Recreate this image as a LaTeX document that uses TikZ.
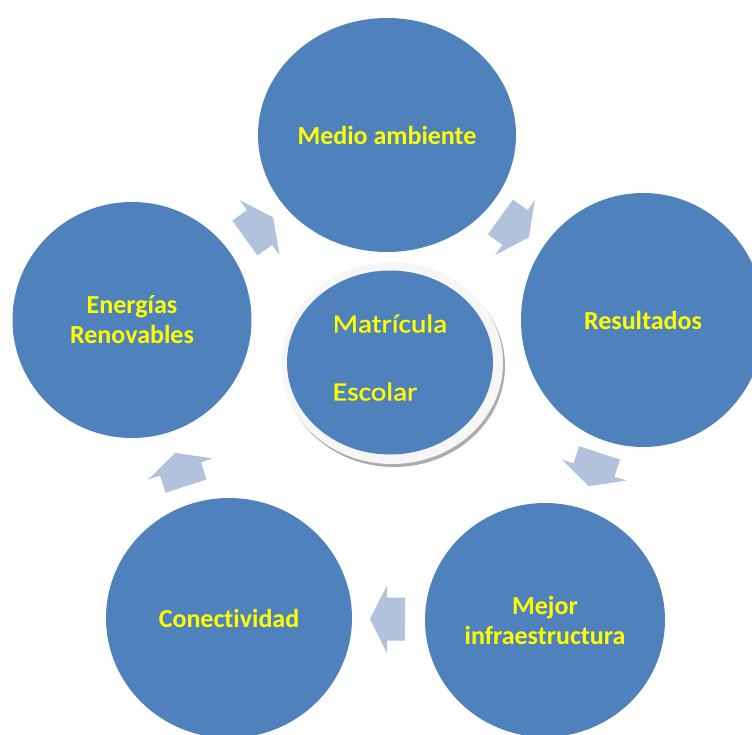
\documentclass[tikz,border=0pt]{standalone}
\usepackage{fontspec}
\setmainfont[Ligatures=NoCommon]{Carlito}
\newfontfamily\middlefont[Ligatures=NoCommon, FakeStretch=1.13, FakeBold=1]{Carlito}
\usetikzlibrary{shapes.geometric}
\usetikzlibrary{decorations.markings}
\definecolor{cycleblue}{HTML}{4F81BD}
\definecolor{arrowblue}{HTML}{B3C2DC}
\definecolor{labelyellow}{HTML}{FFFF00}

\begin{document}
\begin{tikzpicture}[x=1pt,y=-1pt,
        bubble/.style={ellipse, fill=cycleblue, inner sep=0pt, text=labelyellow,
            font=\fontsize{26}{30}\selectfont\bfseries, align=center}]
        \useasboundingbox (0,0) rectangle (752,734);
        \node[bubble, minimum width=258pt, minimum height=234pt] (medio) at (387,135) {Medio ambiente};
        \node[bubble, minimum width=244pt, minimum height=254pt] (result) at (643,320) {Resultados};
        \node[bubble, minimum width=240pt, minimum height=234pt] (mejor) at (545,620) {Mejor\\infraestructura};
        \node[bubble, minimum width=246pt, minimum height=240pt] (conect) at (229,618) {Conectividad};
        \node[bubble, minimum width=239pt, minimum height=236pt] (energ) at (132,320) {Energías\\Renovables};
        % ring round the middle
        \fill[gray!65] (394,366) ellipse [x radius=111, y radius=101];
        \fill[gray!7] (392,363) ellipse [x radius=111, y radius=101];
        \node[bubble, minimum width=206pt, minimum height=184pt, align=left,
            font=\middlefont\fontsize{26}{34}\selectfont] (matric) at (390,362.5) {Matrícula\\[34pt]Escolar\strut};
        \foreach \s/\t in {energ/medio, medio/result, result/mejor, mejor/conect, conect/energ} {
            \path[decorate, decoration={markings, mark=at position 0.5 with {
                \fill[arrowblue] (-18,-21.5) -- (0,-21.5) -- (0,-34) -- (17,0) -- (0,34) -- (0,21.5) -- (-18,21.5) -- cycle;}}]
                (\s.center) -- (\t.center);
        }
    \end{tikzpicture}
\end{document}
